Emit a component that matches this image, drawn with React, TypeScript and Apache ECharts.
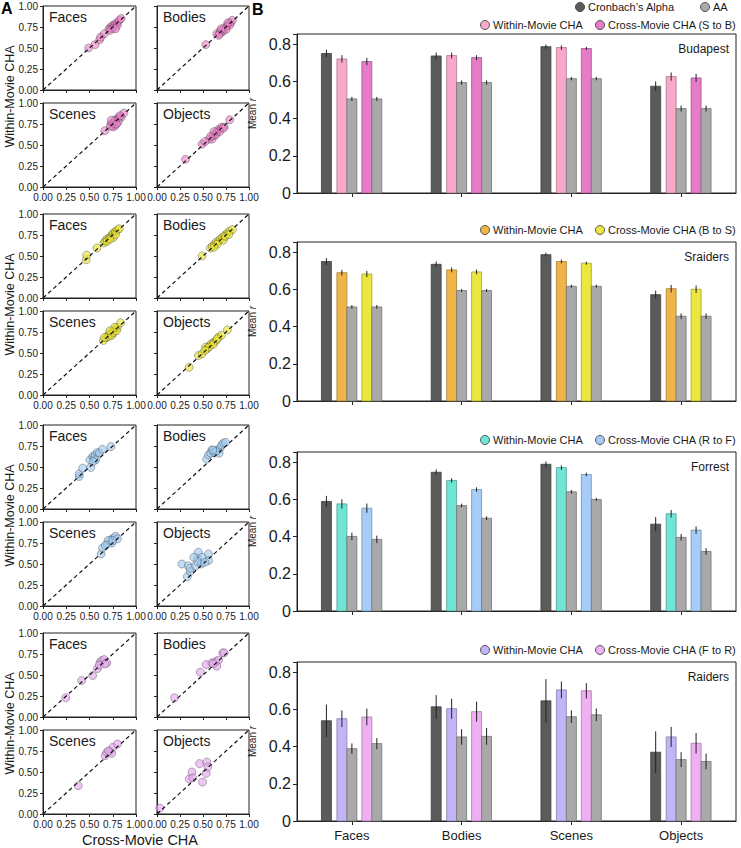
import React, { useEffect, useRef } from 'react';
import * as echarts from 'echarts';

const CATS = ['Faces', 'Bodies', 'Scenes', 'Objects'];
const MOVIES = ['Budapest', 'Sraiders', 'Forrest', 'Raiders'];
const BAR_TICKS = [0, 0.2, 0.4, 0.6, 0.8];

// ---- Bar data: [Faces, Bodies, Scenes, Objects] ----
const budapestAlpha = [0.75, 0.737, 0.787, 0.574];
const budapestAlphaErr = [0.02, 0.018, 0.011, 0.026];
const budapestWithin = [0.721, 0.739, 0.782, 0.626];
const budapestWithinErr = [0.02, 0.016, 0.012, 0.022];
const budapestWithinAA = [0.506, 0.594, 0.615, 0.454];
const budapestWithinAAErr = [0.011, 0.012, 0.009, 0.016];
const budapestCross = [0.707, 0.728, 0.777, 0.619];
const budapestCrossErr = [0.02, 0.013, 0.009, 0.022];
const budapestCrossAA = [0.506, 0.594, 0.615, 0.454];
const budapestCrossAAErr = [0.011, 0.012, 0.009, 0.016];

const sraidersAlpha = [0.75, 0.735, 0.787, 0.572];
const sraidersAlphaErr = [0.018, 0.015, 0.01, 0.022];
const sraidersWithin = [0.69, 0.705, 0.75, 0.604];
const sraidersWithinErr = [0.015, 0.013, 0.01, 0.02];
const sraidersWithinAA = [0.506, 0.594, 0.617, 0.456];
const sraidersWithinAAErr = [0.01, 0.008, 0.008, 0.015];
const sraidersCross = [0.683, 0.694, 0.741, 0.601];
const sraidersCrossErr = [0.017, 0.013, 0.008, 0.02];
const sraidersCrossAA = [0.506, 0.594, 0.617, 0.456];
const sraidersCrossAAErr = [0.01, 0.008, 0.008, 0.015];

const forrestAlpha = [0.589, 0.746, 0.789, 0.467];
const forrestAlphaErr = [0.03, 0.015, 0.015, 0.038];
const forrestWithin = [0.576, 0.702, 0.771, 0.523];
const forrestWithinErr = [0.025, 0.012, 0.012, 0.02];
const forrestWithinAA = [0.401, 0.567, 0.641, 0.396];
const forrestWithinAAErr = [0.02, 0.01, 0.01, 0.018];
const forrestCross = [0.553, 0.653, 0.734, 0.435];
const forrestCrossErr = [0.025, 0.012, 0.01, 0.02];
const forrestCrossAA = [0.385, 0.499, 0.6, 0.32];
const forrestCrossAAErr = [0.02, 0.01, 0.008, 0.018];

const raidersAlpha = [0.539, 0.614, 0.646, 0.37];
const raidersAlphaErr = [0.087, 0.063, 0.117, 0.112];
const raidersWithin = [0.55, 0.604, 0.705, 0.452];
const raidersWithinErr = [0.045, 0.054, 0.045, 0.054];
const raidersWithinAA = [0.389, 0.452, 0.561, 0.33];
const raidersWithinAAErr = [0.028, 0.042, 0.034, 0.04];
const raidersCross = [0.559, 0.588, 0.7, 0.418];
const raidersCrossErr = [0.045, 0.054, 0.041, 0.055];
const raidersCrossAA = [0.416, 0.455, 0.571, 0.32];
const raidersCrossAAErr = [0.03, 0.045, 0.034, 0.042];

// ---- Scatter data: [cross-movie CHA, within-movie CHA] per subject ----
const budapestFaces = [[0.49, 0.5], [0.56, 0.54], [0.61, 0.6], [0.62, 0.63], [0.66, 0.67], [0.71, 0.73], [0.73, 0.75], [0.75, 0.77], [0.76, 0.76], [0.78, 0.79], [0.8, 0.8], [0.82, 0.83], [0.84, 0.85], [0.75, 0.73], [0.8, 0.77], [0.72, 0.71], [0.78, 0.73]];
const budapestBodies = [[0.53, 0.54], [0.65, 0.67], [0.69, 0.71], [0.71, 0.69], [0.73, 0.73], [0.76, 0.76], [0.78, 0.79], [0.8, 0.8], [0.82, 0.83], [0.68, 0.67], [0.75, 0.75], [0.72, 0.71], [0.79, 0.77], [0.67, 0.65], [0.75, 0.72], [0.7, 0.73], [0.77, 0.8]];
const budapestScenes = [[0.665, 0.67], [0.73, 0.75], [0.745, 0.76], [0.76, 0.75], [0.78, 0.795], [0.8, 0.815], [0.82, 0.835], [0.84, 0.83], [0.87, 0.88], [0.755, 0.715], [0.78, 0.735], [0.81, 0.775], [0.725, 0.725], [0.77, 0.79], [0.83, 0.85], [0.735, 0.795], [0.79, 0.75]];
const budapestObjects = [[0.31, 0.33], [0.49, 0.51], [0.57, 0.57], [0.6, 0.57], [0.61, 0.61], [0.64, 0.64], [0.65, 0.66], [0.67, 0.685], [0.7, 0.71], [0.73, 0.715], [0.79, 0.8], [0.64, 0.62], [0.68, 0.66], [0.62, 0.66], [0.72, 0.7], [0.52, 0.54], [0.58, 0.6]];

const sraidersFaces = [[0.465, 0.456], [0.47, 0.51], [0.58, 0.595], [0.655, 0.655], [0.67, 0.68], [0.69, 0.705], [0.71, 0.71], [0.73, 0.735], [0.745, 0.755], [0.76, 0.775], [0.78, 0.79], [0.8, 0.81], [0.82, 0.825], [0.69, 0.675], [0.755, 0.72], [0.72, 0.7], [0.78, 0.755]];
const sraidersBodies = [[0.49, 0.5], [0.58, 0.595], [0.6, 0.615], [0.625, 0.64], [0.645, 0.665], [0.67, 0.68], [0.69, 0.705], [0.71, 0.72], [0.735, 0.745], [0.765, 0.775], [0.79, 0.795], [0.82, 0.815], [0.655, 0.64], [0.72, 0.69], [0.745, 0.735], [0.62, 0.605], [0.78, 0.755]];
const sraidersScenes = [[0.65, 0.65], [0.685, 0.686], [0.71, 0.725], [0.73, 0.745], [0.745, 0.72], [0.765, 0.765], [0.78, 0.785], [0.8, 0.805], [0.835, 0.86], [0.7, 0.695], [0.735, 0.71], [0.755, 0.745], [0.79, 0.765], [0.77, 0.805], [0.72, 0.765], [0.66, 0.685]];
const sraidersObjects = [[0.35, 0.33], [0.45, 0.47], [0.49, 0.49], [0.53, 0.57], [0.545, 0.55], [0.575, 0.59], [0.59, 0.61], [0.62, 0.63], [0.645, 0.65], [0.67, 0.69], [0.7, 0.71], [0.765, 0.775], [0.565, 0.57], [0.61, 0.6], [0.655, 0.67], [0.52, 0.53]];

const forrestFaces = [[0.39, 0.387], [0.39, 0.42], [0.426, 0.486], [0.513, 0.494], [0.505, 0.585], [0.534, 0.625], [0.549, 0.605], [0.56, 0.644], [0.585, 0.672], [0.606, 0.664], [0.639, 0.71], [0.73, 0.743], [0.567, 0.585], [0.54, 0.565]];
const forrestBodies = [[0.54, 0.593], [0.56, 0.644], [0.596, 0.703], [0.585, 0.664], [0.62, 0.672], [0.65, 0.703], [0.675, 0.664], [0.686, 0.723], [0.704, 0.763], [0.722, 0.783], [0.745, 0.794], [0.643, 0.684], [0.607, 0.7]];
const forrestScenes = [[0.625, 0.62], [0.64, 0.69], [0.69, 0.74], [0.73, 0.79], [0.76, 0.81], [0.78, 0.83], [0.8, 0.8], [0.74, 0.75], [0.7, 0.78], [0.75, 0.78], [0.67, 0.72]];
const forrestObjects = [[0.27, 0.5], [0.34, 0.48], [0.33, 0.35], [0.36, 0.41], [0.36, 0.45], [0.42, 0.48], [0.44, 0.57], [0.45, 0.64], [0.49, 0.58], [0.48, 0.5], [0.44, 0.53], [0.56, 0.62], [0.56, 0.54], [0.52, 0.52], [0.4, 0.58]];

const raidersFaces = [[0.245, 0.23], [0.415, 0.435], [0.534, 0.494], [0.585, 0.577], [0.614, 0.652], [0.632, 0.672], [0.657, 0.684], [0.686, 0.644], [0.606, 0.617], [0.668, 0.632]];
const raidersBodies = [[0.19, 0.23], [0.47, 0.534], [0.534, 0.625], [0.596, 0.644], [0.643, 0.664], [0.668, 0.676], [0.65, 0.605], [0.715, 0.763], [0.73, 0.763], [0.614, 0.636]];
const raidersScenes = [[0.379, 0.337], [0.668, 0.694], [0.686, 0.734], [0.722, 0.746], [0.751, 0.794], [0.801, 0.833], [0.74, 0.722], [0.704, 0.75]];
const raidersObjects = [[0.03, 0.07], [0.35, 0.417], [0.38, 0.5], [0.39, 0.43], [0.462, 0.6], [0.495, 0.38], [0.534, 0.484], [0.542, 0.62], [0.552, 0.56]];

const scatterSets = [
  [budapestFaces, budapestBodies, budapestScenes, budapestObjects],
  [sraidersFaces, sraidersBodies, sraidersScenes, sraidersObjects],
  [forrestFaces, forrestBodies, forrestScenes, forrestObjects],
  [raidersFaces, raidersBodies, raidersScenes, raidersObjects],
];

const barSets = [
  [[budapestAlpha, budapestAlphaErr], [budapestWithin, budapestWithinErr], [budapestWithinAA, budapestWithinAAErr], [budapestCross, budapestCrossErr], [budapestCrossAA, budapestCrossAAErr]],
  [[sraidersAlpha, sraidersAlphaErr], [sraidersWithin, sraidersWithinErr], [sraidersWithinAA, sraidersWithinAAErr], [sraidersCross, sraidersCrossErr], [sraidersCrossAA, sraidersCrossAAErr]],
  [[forrestAlpha, forrestAlphaErr], [forrestWithin, forrestWithinErr], [forrestWithinAA, forrestWithinAAErr], [forrestCross, forrestCrossErr], [forrestCrossAA, forrestCrossAAErr]],
  [[raidersAlpha, raidersAlphaErr], [raidersWithin, raidersWithinErr], [raidersWithinAA, raidersWithinAAErr], [raidersCross, raidersCrossErr], [raidersCrossAA, raidersCrossAAErr]],
];

const CROSS_LABELS = ['Cross-Movie CHA (S to B)', 'Cross-Movie CHA (B to S)', 'Cross-Movie CHA (R to F)', 'Cross-Movie CHA (F to R)'];
const WITHIN_COLORS = ['#f8a9ca', '#efb548', '#70e4d5', '#c2b4f6'];
const CROSS_COLORS = ['#e67cc8', '#ebe73e', '#a5cdf8', '#eeb0f2'];
const SCATTER_COLORS = ['rgba(236,128,200,0.78)', 'rgba(234,228,50,0.8)', 'rgba(160,203,243,0.8)', 'rgba(232,170,240,0.85)'];
const ALPHA_COLOR = '#5b5b5b';
const AA_COLOR = '#a9a9a9';

const FONT = '"Liberation Sans", Arial, Helvetica, sans-serif';
const INK = '#1a1a1a';

// layout
const GROUP_TOPS = [6, 214, 425, 633];
const ROW_OFF = 97;
const PANEL_H = 84;
const COL_LEFT = [43, 157];
const COL_W = [93, 92];
const BAR_TOPS = [34, 242, 452, 662];
const BAR_H = 159;
const BAR_LEFT = 297;
const BAR_W = 439;
const BAR_OFFSETS = [-25.5, -10, 0, 15, 25];
const BAR_PX = 10;

function darken(hex: string, f: number) {
  const n = parseInt(hex.slice(1), 16);
  const r = Math.round(((n >> 16) & 255) * f);
  const g = Math.round(((n >> 8) & 255) * f);
  const b = Math.round((n & 255) * f);
  return `rgb(${r},${g},${b})`;
}

function buildOption() {
  const grid: any[] = [];
  const xAxis: any[] = [];
  const yAxis: any[] = [];
  const series: any[] = [];
  const graphic: any[] = [];

  // scatter panels
  for (let m = 0; m < 4; m++) {
    for (let c = 0; c < 4; c++) {
      const row = Math.floor(c / 2);
      const col = c % 2;
      const gi = grid.length;
      const top = GROUP_TOPS[m] + row * ROW_OFF;
      grid.push({ left: COL_LEFT[col], top, width: COL_W[col], height: PANEL_H, show: true, borderColor: '#222', borderWidth: 1, backgroundColor: 'transparent' });
      xAxis.push({
        gridIndex: gi, type: 'value', min: 0, max: 1, interval: 0.25,
        axisLine: { show: true, lineStyle: { color: '#222', width: 1 } },
        axisTick: { show: true, length: 3, lineStyle: { color: '#222' } },
        axisLabel: { show: row === 1, fontSize: 10, color: INK, fontFamily: FONT, margin: 5, formatter: (v: number) => v.toFixed(2) },
        splitLine: { show: false },
      });
      yAxis.push({
        gridIndex: gi, type: 'value', min: 0, max: 1, interval: 0.25,
        axisLine: { show: true, lineStyle: { color: '#222', width: 1 } },
        axisTick: { show: true, length: 3, lineStyle: { color: '#222' } },
        axisLabel: { show: col === 0, fontSize: 10, color: INK, fontFamily: FONT, margin: 5, formatter: (v: number) => v.toFixed(2) },
        splitLine: { show: false },
      });
      series.push({
        type: 'scatter', xAxisIndex: gi, yAxisIndex: gi, data: scatterSets[m][c], symbolSize: 8,
        itemStyle: { color: SCATTER_COLORS[m], borderColor: 'rgba(60,60,60,0.8)', borderWidth: 0.6 }, z: 2,
      });
      series.push({
        type: 'line', xAxisIndex: gi, yAxisIndex: gi, data: [[0, 0], [1, 1]], symbol: 'none',
        lineStyle: { color: '#111', width: 1.2, type: [4, 3] }, z: 3, silent: true,
      });
      graphic.push({ type: 'text', x: COL_LEFT[col] + 6, y: top + 11, style: { text: CATS[c], fontSize: 14, fontFamily: FONT, fill: INK, align: 'left', verticalAlign: 'middle' } });
    }
    graphic.push({
      type: 'text', x: 10, y: GROUP_TOPS[m] + (ROW_OFF + PANEL_H) / 2, rotation: Math.PI / 2,
      style: { text: 'Within-Movie CHA', fontSize: 12.5, fontFamily: FONT, fill: INK, align: 'center', verticalAlign: 'middle' },
    });
  }

  // bar panels
  for (let m = 0; m < 4; m++) {
    const gi = grid.length;
    grid.push({ left: BAR_LEFT, top: BAR_TOPS[m], width: BAR_W, height: BAR_H, show: true, borderColor: '#222', borderWidth: 1, backgroundColor: 'transparent' });
    xAxis.push({
      gridIndex: gi, type: 'category', data: CATS, boundaryGap: true,
      axisLine: { show: true, lineStyle: { color: '#222', width: 1 } },
      axisTick: { show: true, alignWithLabel: true, length: 4, lineStyle: { color: '#222' } },
      axisLabel: { show: m === 3, fontSize: 13, color: INK, fontFamily: FONT, margin: 8 },
      splitLine: { show: false },
    });
    yAxis.push({
      gridIndex: gi, type: 'value', min: 0, max: 0.855, interval: 0.2,
      name: '{a|Mean }{b|r}', nameLocation: 'middle', nameGap: 36,
      nameTextStyle: { fontSize: 10, color: INK, fontFamily: FONT, rich: { a: { fontSize: 10, fontFamily: FONT, color: INK }, b: { fontSize: 10, fontStyle: 'italic', fontFamily: FONT, color: INK } } },
      axisLine: { show: true, lineStyle: { color: '#222', width: 1 } },
      axisTick: { show: true, length: 4, lineStyle: { color: '#222' } },
      axisLabel: {
        fontSize: 16, color: INK, fontFamily: FONT, margin: 6,
        formatter: (v: number) => {
          const hit = BAR_TICKS.find((t) => Math.abs(t - v) < 1e-6);
          if (hit === undefined) return '';
          return hit === 0 ? '0' : hit.toFixed(1);
        },
      },
      splitLine: { show: false },
    });
    const colors = [ALPHA_COLOR, WITHIN_COLORS[m], AA_COLOR, CROSS_COLORS[m], AA_COLOR];
    barSets[m].forEach(([vals, errs], k) => {
      const color = colors[k];
      const stroke = darken(color, 0.7);
      const off = BAR_OFFSETS[k];
      series.push({
        type: 'custom', xAxisIndex: gi, yAxisIndex: gi,
        encode: { x: 0, y: 1 },
        data: vals.map((v, i) => [i, v, errs[i]]),
        renderItem: (_p: any, api: any) => {
          const ci = api.value(0);
          const v = api.value(1);
          const e = api.value(2);
          const topPt = api.coord([ci, v]);
          const base = api.coord([ci, 0]);
          const band = api.size([1, 0])[0];
          const cx = topPt[0] + (off / 110) * band;
          const w = (BAR_PX / 110) * band;
          const eTop = api.coord([ci, v + e])[1];
          const eBot = api.coord([ci, v - e])[1];
          return {
            type: 'group',
            children: [
              { type: 'rect', shape: { x: cx - w / 2, y: topPt[1], width: w, height: base[1] - topPt[1] }, style: { fill: color, stroke, lineWidth: 0.8 } },
              { type: 'line', shape: { x1: cx, y1: eTop, x2: cx, y2: eBot }, style: { stroke: '#222', lineWidth: 1 } },
            ],
          };
        },
        z: 2,
      });
    });
    graphic.push({ type: 'text', x: BAR_LEFT + BAR_W - 7, y: BAR_TOPS[m] + 15, style: { text: MOVIES[m], fontSize: 12, fontFamily: FONT, fill: INK, align: 'right', verticalAlign: 'middle' } });
    const ly = m === 0 ? 25 : BAR_TOPS[m] - 12;
    const legendItems: [number, string, string, number][] = [
      [485, WITHIN_COLORS[m], 'Within-Movie CHA', ly],
      [600, CROSS_COLORS[m], CROSS_LABELS[m], ly],
    ];
    if (m === 0) {
      legendItems.push([580, ALPHA_COLOR, "Cronbach\u2019s Alpha", 7]);
      legendItems.push([705, AA_COLOR, 'AA', 7]);
    }
    legendItems.forEach(([lx, col, label, yy]) => {
      graphic.push({ type: 'circle', shape: { cx: lx, cy: yy, r: 4.5 }, style: { fill: col, stroke: '#333', lineWidth: 0.8 } });
      graphic.push({ type: 'text', x: lx + 8, y: yy, style: { text: label, fontSize: 11, fontFamily: FONT, fill: INK, align: 'left', verticalAlign: 'middle' } });
    });
  }

  graphic.push({ type: 'text', x: 140, y: 840, style: { text: 'Cross-Movie CHA', fontSize: 14.5, fontFamily: FONT, fill: INK, align: 'center', verticalAlign: 'middle' } });
  graphic.push({ type: 'text', x: 1, y: 8, style: { text: 'A', fontSize: 16, fontWeight: 'bold', fontFamily: FONT, fill: '#000', align: 'left', verticalAlign: 'middle' } });
  graphic.push({ type: 'text', x: 252, y: 9, style: { text: 'B', fontSize: 16, fontWeight: 'bold', fontFamily: FONT, fill: '#000', align: 'left', verticalAlign: 'middle' } });

  return {
    animation: false,
    backgroundColor: '#ffffff',
    textStyle: { fontFamily: FONT },
    grid, xAxis, yAxis, series, graphic,
  };
}

export default function App() {
  const ref = useRef<HTMLDivElement>(null);
  useEffect(() => {
    document.body.style.margin = '0';
    if (!ref.current) return;
    const chart = echarts.init(ref.current, null, { renderer: 'svg' });
    chart.setOption(buildOption() as any);
    return () => chart.dispose();
  }, []);
  return <div ref={ref} style={{ position: 'absolute', left: 0, top: 0, width: 741, height: 848 }} />;
}
